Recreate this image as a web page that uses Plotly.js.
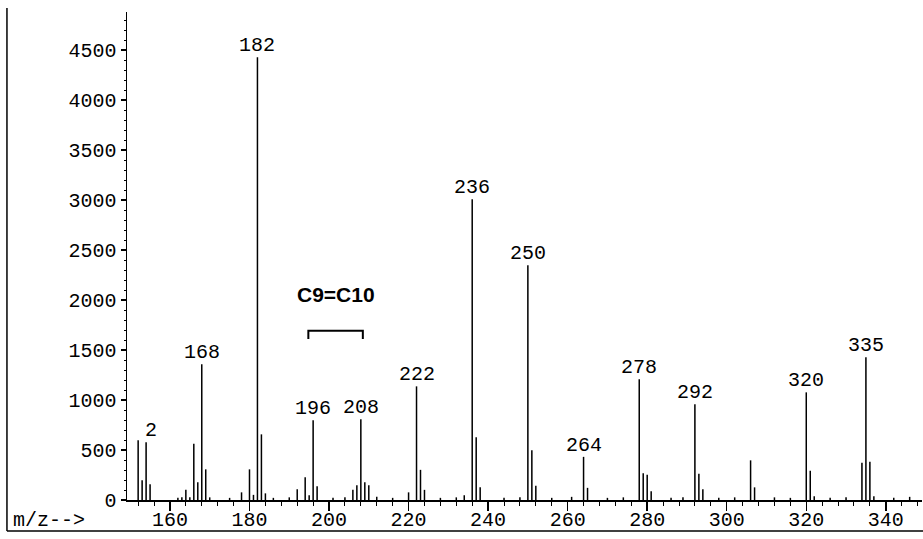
<!DOCTYPE html>
<html>
<head>
<meta charset="utf-8">
<script src="https://cdn.plot.ly/plotly-3.0.1.min.js"></script>
<style>html,body{margin:0;padding:0;background:#fff;}#chart{width:923px;height:539px;}</style>
</head>
<body>
<div id="chart"></div>
<script>
// m/z values of the spectrum lines
const mz = [152,153,154,155, 162,163,164,165,166,167,168,169,170,
  175,178,180,181,182,183,184, 186,190,192,194,195,196,197,
  201,204,206,207,208,209,210, 212,216,220,222,223,224,
  228,232,234,236,237,238, 244,248,250,251,252,
  256,261,264,265, 270,274,278,279,280,281,
  286,289,292,293,294, 298,302,306,307,
  312,316,320,321,322, 326,330,334,335,336,337, 342,346];
// abundances
const abundance = [590,190,570,150, 15,20,95,20,555,170,1350,300,20,
  15,70,300,45,4420,650,60, 15,20,100,220,40,790,130,
  15,20,95,140,800,170,140, 25,15,70,1130,295,95,
  15,20,40,3000,620,120, 15,20,2340,490,135,
  15,25,425,115, 15,20,1200,260,245,80,
  15,20,950,255,100, 15,20,390,120,
  20,15,1070,285,30, 15,20,365,1420,375,30, 15,25];
// labelled peaks
const labelMz = [154,168,182,196,208,222,236,250,264,278,292,320,335];
const labelText = ['2','168','182','196','208','222','236','250','264','278','292','320','335'];
const xTickVals = [160,180,200,220,240,260,280,300,320,340];
const yTickVals = [0,500,1000,1500,2000,2500,3000,3500,4000,4500];
const bracketLabel = 'C9=C10';
const bracketMz = [194.8, 208.5];
const axisLabel = 'm/z-->';

const heightOf = m => abundance[mz.indexOf(m)];
const mono = {family:'"Liberation Mono", "Courier New", monospace', size:20, color:'#000'};

const annotations = labelMz.map((m,i)=>({
  x:m, y:heightOf(m), xref:'x', yref:'y', text:labelText[i], showarrow:false,
  xanchor:'center', yanchor:'middle', yshift:12.5, xshift: labelText[i]==='2'?5:0,
  font:mono
}));
annotations.push({x:-0.146, y:-0.041, xref:'paper', yref:'paper', text:axisLabel, showarrow:false,
  xanchor:'left', yanchor:'middle', font:mono});
annotations.push({x:(bracketMz[0]+bracketMz[1])/2, y:2060, xref:'x', yref:'y', text:'<b>'+bracketLabel+'</b>', showarrow:false,
  xanchor:'center', yanchor:'middle', font:{family:'"Liberation Sans", Arial, sans-serif', size:21, color:'#000'}});

const shapes = [
  {type:'path', xref:'x', yref:'y', path:`M ${bracketMz[0]},1610 L ${bracketMz[0]},1693 L ${bracketMz[1]},1693 L ${bracketMz[1]},1610`,
   line:{color:'#000', width:2}},
  {type:'line', xref:'paper', yref:'paper', x0:-0.151, x1:-0.151, y0:1.008, y1:-0.0635, line:{color:'#000', width:1.5}},
  {type:'line', xref:'paper', yref:'paper', x0:-0.151, x1:1.0013, y0:-0.0635, y1:-0.0635, line:{color:'#000', width:1.5}}
];

const trace = {type:'bar', x:mz, y:abundance, width:0.05, marker:{color:'#000', line:{width:1.3, color:'#000'}}, hoverinfo:'x+y'};

const layout = {
  width:923, height:539, margin:{l:127, r:1, t:12, b:39},
  paper_bgcolor:'#fff', plot_bgcolor:'#fff', showlegend:false, bargap:0,
  xaxis:{range:[149.2,349.1], showline:true, linecolor:'#000', linewidth:2, ticks:'outside', ticklen:9, tickwidth:1.5,
    tickcolor:'#000', tickvals:xTickVals, ticktext:xTickVals.map(String), tickfont:mono, showgrid:false, zeroline:false,
    ticklabelstandoff:-9,
    minor:{dtick:4, tick0:0, ticks:'outside', ticklen:4, tickwidth:1, tickcolor:'#000', showgrid:false}},
  yaxis:{range:[0,4880], showline:true, linecolor:'#000', linewidth:1.5, ticks:'outside', ticklen:5, tickwidth:1.5,
    tickcolor:'#000', tickvals:yTickVals, ticktext:yTickVals.map(String), tickfont:mono, showgrid:false, zeroline:false,
    minor:{dtick:100, tick0:0, ticks:'outside', ticklen:2, tickwidth:1, tickcolor:'#000', showgrid:false}},
  annotations:annotations, shapes:shapes
};
Plotly.newPlot('chart', [trace], layout, {staticPlot:true, displayModeBar:false});
</script>
</body>
</html>
